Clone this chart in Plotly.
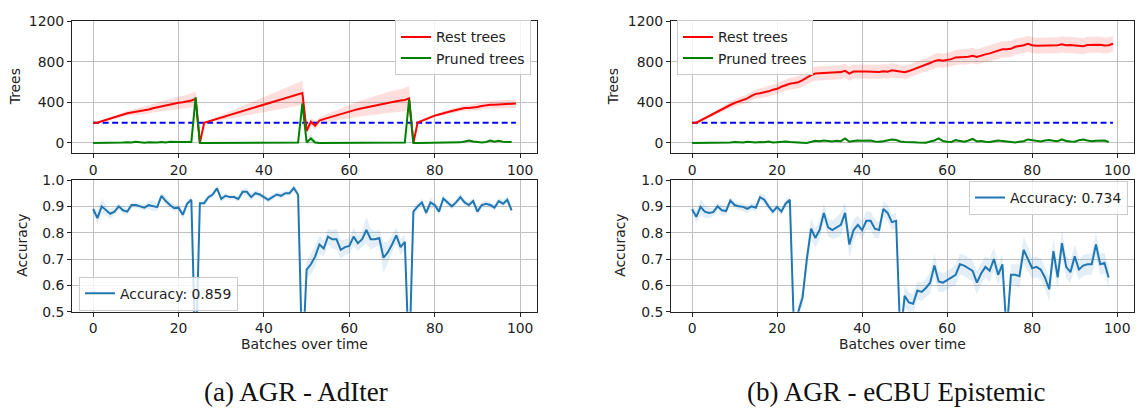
import numpy as np
import plotly.graph_objects as go

# ---------------- data ----------------
batches = list(range(100))          # x for rest trees / threshold
batches_short = list(range(99))     # x for pruned trees / accuracy
threshold_value = 200

# (a) AGR - AdIter
rest_a = [200, 200, 215, 228, 242, 255, 268, 282, 293, 300,
          307, 312, 318, 330, 342, 352, 362, 372, 380, 390,
          398, 403, 410, 420, 435, 0, 200, 213, 226, 238,
          251, 264, 277, 290, 302, 315, 328, 341, 354, 366,
          379, 392, 405, 418, 430, 443, 456, 469, 482, 494,
          120, 210, 170, 222, 236, 249, 262, 275, 288, 300,
          315, 325, 334, 343, 352, 362, 372, 382, 392, 400,
          405, 412, 420, 425, 440, 0, 202, 220, 238, 255,
          270, 282, 295, 305, 316, 326, 336, 345, 345, 348,
          355, 365, 374, 378, 378, 380, 381, 380, 384, 390]
rest_a_std = [0, 0, 5, 8, 12, 15, 18, 22, 25, 28,
              30, 33, 36, 40, 42, 45, 48, 52, 55, 58,
              60, 62, 66, 70, 75, 5, 5, 10, 15, 20,
              25, 30, 35, 40, 45, 50, 55, 60, 65, 70,
              75, 80, 85, 90, 95, 100, 105, 110, 115, 120,
              40, 40, 40, 30, 35, 40, 45, 50, 55, 60,
              65, 70, 75, 80, 85, 90, 95, 98, 100, 104,
              108, 112, 115, 118, 122, 5, 5, 8, 10, 12,
              14, 16, 18, 20, 22, 24, 26, 28, 30, 32,
              34, 35, 36, 37, 38, 39, 40, 40, 40, 40]
pruned_a = [0, 0, 2, 0, 3, 5, 2, 4, 8, 5,
            12, 4, 3, 6, 2, 4, 10, 5, 12, 8,
            10, 9, 10, 10, 450, 0, 0, 0, 1, 0,
            2, 0, 0, 1, 0, 2, 0, 1, 0, 0,
            2, 1, 0, 0, 1, 2, 3, 2, 5, 390,
            5, 45, 5, 0, 0, 0, 1, 0, 0, 2,
            0, 1, 0, 0, 3, 0, 2, 0, 4, 2,
            0, 3, 2, 5, 430, 0, 0, 0, 0, 0,
            0, 0, 0, 0, 2, 3, 6, 15, 25, 15,
            8, 5, 10, 25, 12, 22, 12, 10, 10]
pruned_a_std = [3, 3, 3, 3, 3, 4, 4, 4, 4, 4,
                5, 4, 4, 4, 4, 4, 5, 4, 5, 4,
                5, 5, 5, 15, 35, 8, 3, 3, 3, 3,
                3, 3, 3, 3, 3, 3, 3, 3, 3, 3,
                3, 3, 3, 3, 3, 3, 3, 4, 10, 30,
                25, 50, 20, 5, 3, 3, 3, 3, 3, 3,
                3, 3, 3, 3, 3, 3, 3, 3, 3, 3,
                3, 3, 4, 10, 30, 8, 3, 3, 3, 3,
                3, 3, 3, 3, 4, 5, 6, 8, 10, 8,
                6, 5, 6, 8, 7, 8, 7, 6, 6]
acc_a = [0.890, 0.855, 0.900, 0.885, 0.872, 0.880, 0.900, 0.885, 0.880, 0.905,
         0.905, 0.900, 0.895, 0.905, 0.902, 0.897, 0.940, 0.920, 0.905, 0.893,
         0.895, 0.868, 0.910, 0.925, 0.300, 0.912, 0.912, 0.935, 0.945, 0.968,
         0.928, 0.940, 0.935, 0.935, 0.928, 0.955, 0.955, 0.935, 0.950, 0.945,
         0.935, 0.925, 0.935, 0.945, 0.940, 0.950, 0.950, 0.970, 0.944, 0.300,
         0.660, 0.680, 0.710, 0.755, 0.740, 0.785, 0.775, 0.775, 0.735, 0.745,
         0.750, 0.785, 0.760, 0.775, 0.810, 0.775, 0.775, 0.780, 0.705, 0.725,
         0.755, 0.790, 0.745, 0.765, 0.300, 0.880, 0.900, 0.915, 0.875, 0.915,
         0.905, 0.880, 0.930, 0.915, 0.900, 0.915, 0.935, 0.915, 0.905, 0.920,
         0.880, 0.905, 0.910, 0.905, 0.895, 0.920, 0.910, 0.925, 0.885]
acc_a_std = [0.012, 0.025, 0.030, 0.020, 0.018, 0.015, 0.012, 0.015, 0.012, 0.010,
             0.010, 0.010, 0.012, 0.015, 0.020, 0.015, 0.012, 0.015, 0.015, 0.012,
             0.012, 0.018, 0.015, 0.012, 0.020, 0.010, 0.010, 0.010, 0.010, 0.010,
             0.012, 0.010, 0.010, 0.010, 0.010, 0.012, 0.015, 0.015, 0.012, 0.012,
             0.010, 0.012, 0.010, 0.010, 0.012, 0.010, 0.010, 0.010, 0.012, 0.020,
             0.030, 0.040, 0.040, 0.035, 0.030, 0.030, 0.035, 0.040, 0.035, 0.030,
             0.030, 0.035, 0.030, 0.030, 0.050, 0.040, 0.030, 0.030, 0.060, 0.040,
             0.035, 0.030, 0.030, 0.030, 0.020, 0.015, 0.015, 0.015, 0.015, 0.020,
             0.012, 0.015, 0.012, 0.012, 0.012, 0.012, 0.012, 0.012, 0.012, 0.012,
             0.015, 0.012, 0.012, 0.012, 0.012, 0.012, 0.015, 0.012, 0.012]

# (b) AGR - eCBU Epistemic
rest_b = [200, 200, 222, 245, 268, 290, 310, 330, 355, 375,
          395, 410, 425, 440, 465, 485, 492, 498, 510, 525,
          535, 555, 572, 585, 592, 600, 620, 645, 670, 685,
          688, 690, 695, 698, 700, 700, 712, 685, 705, 708,
          705, 705, 703, 705, 702, 708, 704, 718, 710, 705,
          698, 710, 725, 742, 758, 770, 790, 808, 820, 812,
          820, 828, 845, 850, 848, 852, 862, 850, 865, 875,
          885, 900, 915, 925, 925, 930, 950, 955, 965, 980,
          965, 960, 962, 960, 962, 970, 965, 975, 965, 968,
          965, 958, 955, 968, 970, 968, 970, 962, 965, 980]
rest_b_std = [0, 0, 6, 10, 14, 18, 22, 26, 30, 34,
              36, 38, 40, 42, 44, 46, 48, 50, 52, 52,
              52, 54, 56, 58, 60, 62, 64, 66, 68, 70,
              70, 70, 70, 70, 70, 70, 70, 70, 70, 70,
              70, 70, 70, 70, 70, 70, 70, 70, 70, 70,
              68, 66, 64, 64, 64, 66, 68, 70, 70, 70,
              72, 72, 74, 74, 75, 75, 76, 76, 78, 78,
              80, 80, 80, 80, 80, 80, 80, 80, 80, 80,
              80, 80, 80, 80, 80, 80, 80, 80, 80, 80,
              80, 80, 80, 80, 80, 80, 80, 80, 80, 80]
pruned_b = [0, 0, 0, 2, 0, 3, 5, 2, 0, 4,
            10, 8, 5, 12, 6, 4, 10, 8, 15, 5,
            8, 12, 15, 10, 5, 0, 2, 0, 10, 22,
            18, 25, 20, 15, 22, 18, 45, 12, 20, 25,
            22, 20, 25, 15, 12, 18, 25, 35, 30, 15,
            10, 12, 8, 5, 0, 2, 15, 25, 45, 20,
            12, 10, 28, 20, 12, 25, 40, 15, 20, 12,
            10, 18, 25, 20, 15, 10, 5, 12, 18, 35,
            28, 20, 15, 25, 30, 22, 18, 35, 20, 15,
            12, 28, 35, 25, 18, 22, 20, 25, 10]
pruned_b_std = [6] * 99
acc_b = [0.889, 0.860, 0.898, 0.880, 0.875, 0.878, 0.900, 0.885, 0.882, 0.922,
         0.905, 0.900, 0.898, 0.890, 0.900, 0.895, 0.935, 0.925, 0.900, 0.880,
         0.898, 0.880, 0.910, 0.925, 0.420, 0.500, 0.555, 0.700, 0.815, 0.780,
         0.810, 0.875, 0.820, 0.810, 0.820, 0.830, 0.875, 0.755, 0.810, 0.830,
         0.810, 0.845, 0.845, 0.815, 0.810, 0.890, 0.875, 0.840, 0.845, 0.400,
         0.560, 0.535, 0.530, 0.580, 0.575, 0.590, 0.610, 0.675, 0.615, 0.610,
         0.620, 0.630, 0.640, 0.680, 0.675, 0.665, 0.655, 0.610, 0.645, 0.670,
         0.655, 0.700, 0.640, 0.680, 0.420, 0.640, 0.640, 0.635, 0.735, 0.700,
         0.665, 0.670, 0.660, 0.630, 0.585, 0.730, 0.630, 0.760, 0.670, 0.650,
         0.710, 0.660, 0.675, 0.680, 0.680, 0.755, 0.680, 0.685, 0.630]
acc_b_std = [0.012, 0.025, 0.030, 0.025, 0.020, 0.015, 0.015, 0.020, 0.015, 0.015,
             0.012, 0.012, 0.015, 0.015, 0.015, 0.015, 0.015, 0.020, 0.015, 0.015,
             0.012, 0.015, 0.015, 0.015, 0.030, 0.030, 0.030, 0.040, 0.040, 0.035,
             0.035, 0.035, 0.035, 0.035, 0.040, 0.045, 0.040, 0.050, 0.040, 0.035,
             0.035, 0.035, 0.035, 0.035, 0.030, 0.030, 0.030, 0.030, 0.030, 0.030,
             0.040, 0.040, 0.035, 0.035, 0.035, 0.035, 0.040, 0.045, 0.040, 0.035,
             0.035, 0.035, 0.040, 0.040, 0.040, 0.040, 0.040, 0.045, 0.040, 0.040,
             0.045, 0.045, 0.040, 0.040, 0.040, 0.040, 0.040, 0.045, 0.050, 0.045,
             0.040, 0.040, 0.040, 0.040, 0.045, 0.050, 0.045, 0.050, 0.045, 0.040,
             0.045, 0.040, 0.040, 0.040, 0.040, 0.045, 0.040, 0.040, 0.040]

acc_a_label = "Accuracy: 0.859"
acc_b_label = "Accuracy: 0.734"
captions = ["(a) AGR - AdIter", "(b) AGR - eCBU Epistemic"]

for arr, n in [(rest_a, 100), (rest_a_std, 100), (pruned_a, 99), (pruned_a_std, 99),
               (acc_a, 99), (acc_a_std, 99), (rest_b, 100), (rest_b_std, 100),
               (pruned_b, 99), (acc_b, 99), (acc_b_std, 99)]:
    assert len(arr) == n, (len(arr), n)

# ---------------- figure ----------------
W, H = 1136, 410
RED, GREEN, BLUE, ACC = "#ff0000", "#008000", "#0000ff", "#1f77b4"
FONT = "DejaVu Sans"
FS = 13.9

fig = go.Figure()


def band(x, mean, std, rgba, xa, ya):
    m = np.array(mean, float)
    s = np.array(std, float)
    fig.add_trace(go.Scatter(x=x, y=m + s, mode="lines", line=dict(width=0),
                             showlegend=False, hoverinfo="skip", xaxis=xa, yaxis=ya))
    fig.add_trace(go.Scatter(x=x, y=m - s, mode="lines", line=dict(width=0),
                             fill="tonexty", fillcolor=rgba, showlegend=False,
                             hoverinfo="skip", xaxis=xa, yaxis=ya))


def trees_panel(rest, rest_std, pruned, pruned_std, xa, ya, leg):
    band(batches, rest, rest_std, "rgba(255,0,0,0.13)", xa, ya)
    band(batches_short, pruned, pruned_std, "rgba(0,128,0,0.12)", xa, ya)
    fig.add_trace(go.Scatter(x=batches, y=[threshold_value] * len(batches), mode="lines",
                             line=dict(color=BLUE, width=2, dash="6px,3.5px"),
                             showlegend=False, xaxis=xa, yaxis=ya))
    fig.add_trace(go.Scatter(x=batches, y=rest, mode="lines", name="Rest trees",
                             line=dict(color=RED, width=2), legend=leg, xaxis=xa, yaxis=ya))
    fig.add_trace(go.Scatter(x=batches_short, y=pruned, mode="lines", name="Pruned trees",
                             line=dict(color=GREEN, width=2), legend=leg, xaxis=xa, yaxis=ya))


def acc_panel(acc, acc_std, label, xa, ya, leg):
    band(batches_short, acc, acc_std, "rgba(31,119,180,0.12)", xa, ya)
    fig.add_trace(go.Scatter(x=batches_short, y=acc, mode="lines", name=label,
                             line=dict(color=ACC, width=2), legend=leg, xaxis=xa, yaxis=ya))


trees_panel(rest_a, rest_a_std, pruned_a, pruned_a_std, "x", "y", "legend")
acc_panel(acc_a, acc_a_std, acc_a_label, "x3", "y3", "legend3")
trees_panel(rest_b, rest_b_std, pruned_b, pruned_b_std, "x2", "y2", "legend2")
acc_panel(acc_b, acc_b_std, acc_b_label, "x4", "y4", "legend4")


def px_x(p):
    return p / W


def px_y(p):
    return 1 - p / H


xdom_l = [px_x(72), px_x(537)]
xdom_r = [px_x(671), px_x(1134)]
ydom_t = [px_y(151), px_y(14)]
ydom_b = [px_y(316), px_y(179)]

axis_common = dict(showline=True, mirror=True, linecolor="#222", linewidth=1,
                   ticks="outside", ticklen=4, tickcolor="#222", tickwidth=1,
                   showgrid=True, gridcolor="#c0c0c0", gridwidth=1, zeroline=False,
                   tickfont=dict(family=FONT, size=FS, color="#222"))
xcommon = dict(axis_common, range=[-4.95, 103.95], tickvals=[0, 20, 40, 60, 80, 100])
ytrees = dict(axis_common, range=[-100, 1200], tickvals=[0, 400, 800, 1200])
yacc = dict(axis_common, range=[0.5, 1.0], tickvals=[0.5, 0.6, 0.7, 0.8, 0.9, 1.0],
            tickformat=".1f")

legend_common = dict(bgcolor="rgba(255,255,255,0.8)", bordercolor="#cccccc", borderwidth=1,
                     font=dict(family=FONT, size=FS, color="#222"), itemwidth=30,
                     tracegroupgap=0, traceorder="normal")

fig.update_layout(
    width=W, height=H, margin=dict(l=0, r=0, t=0, b=0),
    paper_bgcolor="white", plot_bgcolor="white",
    font=dict(family=FONT, size=FS, color="#222"),
    xaxis=dict(xcommon, domain=xdom_l, anchor="y"),
    yaxis=dict(ytrees, domain=ydom_t, anchor="x"),
    xaxis2=dict(xcommon, domain=xdom_r, anchor="y2"),
    yaxis2=dict(ytrees, domain=ydom_t, anchor="x2"),
    xaxis3=dict(xcommon, domain=xdom_l, anchor="y3"),
    yaxis3=dict(yacc, domain=ydom_b, anchor="x3"),
    xaxis4=dict(xcommon, domain=xdom_r, anchor="y4"),
    yaxis4=dict(yacc, domain=ydom_b, anchor="x4"),
    legend=dict(legend_common, x=px_x(531), y=px_y(13), xanchor="right", yanchor="top"),
    legend2=dict(legend_common, x=px_x(677), y=px_y(13), xanchor="left", yanchor="top"),
    legend3=dict(legend_common, x=px_x(79), y=px_y(315), xanchor="left", yanchor="bottom"),
    legend4=dict(legend_common, x=px_x(1128), y=px_y(180), xanchor="right", yanchor="top"),
    showlegend=True,
)

ann = []
labels = [
    ("Trees", 15, 82.5, -90),
    ("Accuracy", 22, 247.5, -90),
    ("Trees", 613, 82.5, -90),
    ("Accuracy", 620, 247.5, -90),
    ("Batches over time", 304.5, 350, 0),
    ("Batches over time", 902.5, 350, 0),
]
for text, xp, yp, rot in labels:
    ann.append(dict(text=text, x=px_x(xp), y=px_y(yp), xref="paper", yref="paper",
                    showarrow=False, textangle=rot, xanchor="center", yanchor="middle",
                    font=dict(family=FONT, size=FS, color="#222")))
for text, xp in zip(captions, [296, 896]):
    ann.append(dict(text=text, x=px_x(xp), y=px_y(400), xref="paper", yref="paper",
                    showarrow=False, xanchor="center", yanchor="middle",
                    font=dict(family="Liberation Serif", size=27, color="#111")))
fig.update_layout(annotations=ann)

fig.write_html("out.html")
